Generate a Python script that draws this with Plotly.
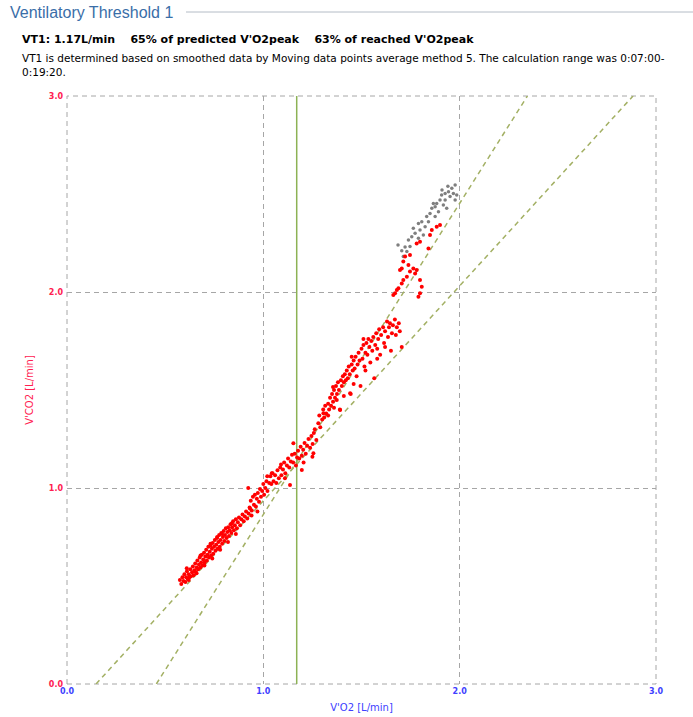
import plotly.graph_objects as go

# ---- data ----
vt1_vo2 = 1.17
axis_ticks = [0.0, 1.0, 2.0, 3.0]
tick_text = ["0.0", "1.0", "2.0", "3.0"]

line1_vo2 = [0.148, 2.883]
line1_vco2 = [0.0, 3.0]
line2_vo2 = [0.455, 2.345]
line2_vco2 = [0.0, 3.0]

red_pts = [
    # lower band
    (0.575,0.53),(0.582,0.51),(0.588,0.545),(0.593,0.525),(0.598,0.56),(0.603,0.52),(0.607,0.545),
    (0.611,0.575),(0.616,0.535),(0.62,0.56),(0.624,0.545),(0.628,0.585),(0.632,0.55),(0.637,0.57),
    (0.641,0.60),(0.645,0.555),(0.649,0.58),(0.653,0.615),(0.657,0.57),(0.661,0.595),(0.664,0.63),
    (0.668,0.585),(0.672,0.61),(0.676,0.645),(0.679,0.595),(0.683,0.62),(0.687,0.66),(0.69,0.605),
    (0.694,0.635),(0.698,0.67),(0.701,0.62),(0.705,0.65),(0.709,0.685),(0.712,0.63),(0.716,0.66),
    (0.72,0.70),(0.723,0.645),(0.727,0.675),(0.731,0.715),(0.734,0.655),(0.738,0.69),(0.742,0.72),
    (0.745,0.665),(0.749,0.70),(0.753,0.735),(0.756,0.68),(0.76,0.71),(0.764,0.745),(0.767,0.69),
    (0.771,0.725),(0.775,0.76),(0.778,0.70),(0.782,0.735),(0.786,0.77),(0.79,0.715),(0.794,0.75),
    (0.798,0.78),(0.801,0.73),(0.805,0.76),(0.809,0.795),(0.813,0.745),(0.817,0.775),(0.821,0.80),
    (0.825,0.755),(0.829,0.785),(0.833,0.815),(0.837,0.77),(0.841,0.80),(0.846,0.83),(0.85,0.785),
    (0.855,0.81),(0.86,0.84),(0.865,0.795),(0.87,0.825),(0.876,0.85),(0.882,0.81),(0.888,0.84),
    (0.894,0.865),(0.90,0.83),(0.906,0.855),(0.912,0.88),(0.918,0.845),(0.925,0.87),(0.932,0.895),
    (0.94,0.86),(0.62,0.53),(0.66,0.565),(0.70,0.605),(0.74,0.64),(0.78,0.685),(0.82,0.725),
    (0.86,0.765),(0.68,0.655),(0.73,0.705),(0.79,0.765),(0.84,0.82),(0.61,0.59),(0.765,0.75),
    # around the threshold
    (0.93,0.90),(0.936,0.935),(0.941,0.885),(0.947,0.955),(0.952,0.915),(0.957,0.965),(0.962,0.905),
    (0.967,0.945),(0.972,0.975),(0.978,0.93),(0.983,0.995),(0.988,0.955),(0.994,0.985),(1.0,1.02),
    (1.004,0.965),(1.01,1.0),(1.016,1.035),(1.021,0.985),(1.03,1.025),(1.036,1.06),(1.041,1.02),
    (1.047,1.075),(1.052,1.035),(1.06,1.065),(1.066,1.025),(1.072,1.09),(1.079,1.05),(1.086,1.105),
    (1.092,1.065),(1.10,1.095),(1.106,1.13),(1.112,1.075),(1.12,1.115),(1.126,1.15),(1.132,1.105),
    (1.14,1.135),(1.146,1.17),(1.152,1.13),(1.16,1.175),(1.166,1.115),(1.172,1.155),(1.177,1.19),
    (1.183,1.15),(1.19,1.21),(1.196,1.165),(1.203,1.195),(1.21,1.23),(1.216,1.175),(1.223,1.215),
    (1.23,1.25),(1.238,1.205),(1.245,1.265),(1.251,1.225),(1.257,1.28),(1.262,1.30),(1.27,1.245),
    (1.136,1.015),(1.196,1.092),(1.153,1.228),(1.043,1.075),(1.255,1.177),(0.923,1.0),(1.205,1.13),
    (0.97,0.88),(1.25,1.16),(1.09,1.12),(1.11,1.05),(1.02,1.06),
    # upper band
    (1.28,1.33),(1.285,1.37),(1.29,1.31),(1.30,1.35),(1.305,1.40),(1.31,1.36),(1.315,1.42),(1.32,1.38),
    (1.33,1.43),(1.335,1.40),(1.34,1.46),(1.345,1.42),(1.35,1.48),(1.355,1.44),(1.36,1.50),(1.365,1.46),
    (1.37,1.52),(1.375,1.48),(1.38,1.54),(1.385,1.50),(1.39,1.40),(1.395,1.55),(1.40,1.52),(1.405,1.57),
    (1.41,1.54),(1.415,1.58),(1.42,1.55),(1.425,1.60),(1.43,1.56),(1.435,1.62),(1.44,1.58),(1.445,1.48),
    (1.45,1.63),(1.455,1.60),(1.46,1.65),(1.465,1.61),(1.47,1.67),(1.475,1.57),(1.48,1.63),(1.485,1.69),
    (1.49,1.65),(1.495,1.52),(1.50,1.71),(1.505,1.66),(1.51,1.73),(1.515,1.62),(1.52,1.69),(1.525,1.74),
    (1.53,1.68),(1.535,1.76),(1.54,1.72),(1.545,1.64),(1.55,1.75),(1.555,1.70),(1.56,1.77),(1.565,1.56),
    (1.57,1.73),(1.575,1.79),(1.58,1.71),(1.585,1.76),(1.59,1.81),(1.595,1.68),(1.60,1.78),(1.61,1.82),
    (1.615,1.74),(1.62,1.80),(1.63,1.85),(1.635,1.77),(1.64,1.82),(1.645,1.84),(1.65,1.70),(1.655,1.79),
    (1.66,1.83),(1.67,1.86),(1.675,1.78),(1.68,1.82),(1.69,1.84),(1.695,1.80),(1.705,1.72),
    (1.391,1.398),(1.306,1.381),(1.374,1.449),(1.442,1.483),(1.33,1.37),(1.36,1.41),(1.41,1.47),
    (1.46,1.53),(1.52,1.60),(1.58,1.66),(1.62,1.72),(1.355,1.515),(1.45,1.67),(1.51,1.76),
    # top red group
    (1.671,1.993),(1.688,2.019),(1.705,2.044),(1.713,2.061),(1.731,2.078),(1.747,2.104),(1.764,2.12),
    (1.773,2.095),(1.781,2.112),(1.798,2.061),(1.807,2.027),(1.798,1.993),(1.79,1.976),(1.713,2.155),
    (1.722,2.181),(1.739,2.138),(1.747,2.189),(1.781,2.248),(1.798,2.257),(1.841,2.222),(1.849,2.291),
    (1.883,2.333),(1.90,2.342),(1.858,2.316),(1.696,2.112),(1.68,2.01),(1.662,1.985),(1.705,2.12),
]
red_vo2 = [p[0] for p in red_pts]
red_vco2 = [p[1] for p in red_pts]

gray_pts = [
    (1.705,2.21),(1.722,2.23),(1.739,2.265),(1.756,2.282),(1.773,2.30),(1.764,2.325),(1.79,2.35),
    (1.807,2.359),(1.798,2.316),(1.824,2.333),(1.832,2.385),(1.849,2.401),(1.858,2.427),(1.875,2.435),
    (1.883,2.452),(1.90,2.469),(1.908,2.495),(1.926,2.503),(1.943,2.512),(1.951,2.487),(1.968,2.503),
    (1.977,2.469),(1.934,2.427),(1.917,2.444),(1.875,2.385),(1.841,2.359),(1.815,2.291),(1.79,2.274),
    (1.747,2.232),(1.731,2.206),(1.713,2.181),(1.892,2.41),(1.866,2.452),(1.985,2.495),(1.96,2.529),
    (1.926,2.469),(1.977,2.546),(1.686,2.24),(1.94,2.54),(1.91,2.52),
]
gray_vo2 = [p[0] for p in gray_pts]
gray_vco2 = [p[1] for p in gray_pts]

# ---- figure ----
W, H = 693, 717
L, R, T, B = 67, 37, 96, 33
pw, ph = W - L - R, H - T - B

def px(xp):
    return (xp - L) / pw

def py(yp):
    return (H - B - yp) / ph

green_dash = "#a3b064"
grid_col = "#a6a6a6"
dash_pat = "5px,4px"

fig = go.Figure()
fig.add_trace(go.Scatter(x=line1_vo2, y=line1_vco2, mode="lines",
                         line=dict(color=green_dash, width=1.5, dash=dash_pat), hoverinfo="skip"))
fig.add_trace(go.Scatter(x=line2_vo2, y=line2_vco2, mode="lines",
                         line=dict(color=green_dash, width=1.5, dash=dash_pat), hoverinfo="skip"))
fig.add_trace(go.Scatter(x=[vt1_vo2, vt1_vo2], y=[axis_ticks[0], axis_ticks[-1]], mode="lines",
                         line=dict(color="#8db255", width=1.5), hoverinfo="skip"))
fig.add_trace(go.Scatter(x=gray_vo2, y=gray_vco2, mode="markers",
                         marker=dict(color="#7f7f7f", size=3.5)))
fig.add_trace(go.Scatter(x=red_vo2, y=red_vco2, mode="markers",
                         marker=dict(color="#ff0000", size=4)))

fig.update_layout(
    width=W, height=H, showlegend=False,
    margin=dict(l=L, r=R, t=T, b=B, autoexpand=False),
    paper_bgcolor="white", plot_bgcolor="white",
    font=dict(family="DejaVu Sans", size=11, color="#000000"),
    xaxis=dict(range=[0, 3], tickvals=axis_ticks, ticktext=["<b>%s</b>" % t for t in tick_text],
               showgrid=True, gridcolor=grid_col, griddash=dash_pat, gridwidth=1, zeroline=False,
               showline=False, ticks="", ticklen=0, ticklabelstandoff=1,
               tickfont=dict(family="DejaVu Sans", size=8, color="#4040ff"),
               title=dict(text="V'O2 [L/min]", standoff=8,
                          font=dict(family="DejaVu Sans", size=10, color="#4040ff"))),
    yaxis=dict(range=[0, 3], tickvals=axis_ticks, ticktext=["<b>%s</b>" % t for t in tick_text],
               showgrid=True, gridcolor=grid_col, griddash=dash_pat, gridwidth=1, zeroline=False,
               showline=False, ticks="", ticklen=0, ticklabelstandoff=3,
               tickfont=dict(family="DejaVu Sans", size=8, color="#ff2050"),
               title=dict(text="V'CO2 [L/min]", standoff=13,
                          font=dict(family="DejaVu Sans", size=10, color="#ff2050"))),
    shapes=[
        dict(type="rect", xref="paper", yref="paper", x0=0, x1=1, y0=0, y1=1,
             line=dict(color=grid_col, width=1, dash=dash_pat), layer="below"),
        dict(type="line", xref="paper", yref="paper", x0=px(186), x1=px(693),
             y0=py(12), y1=py(12), line=dict(color="#b4bcc6", width=1)),
    ],
    annotations=[
        dict(text="Ventilatory Threshold 1", xref="paper", yref="paper", x=px(8), y=py(12),
             xanchor="left", yanchor="middle", showarrow=False,
             font=dict(family="Liberation Sans", size=16, color="#3a6ea8")),
        dict(text="<b>VT1: 1.17L/min\u00a0\u00a0\u00a0\u00a065% of predicted V'O2peak\u00a0\u00a0\u00a0\u00a063% of reached V'O2peak</b>",
             xref="paper", yref="paper", x=px(20), y=py(39),
             xanchor="left", yanchor="middle", showarrow=False,
             font=dict(family="DejaVu Sans", size=11, color="#000000")),
        dict(text="VT1 is determined based on smoothed data by Moving data points average method 5. The calculation range was 0:07:00-",
             xref="paper", yref="paper", x=px(20), y=py(58),
             xanchor="left", yanchor="middle", showarrow=False,
             font=dict(family="DejaVu Sans", size=10.5, color="#000000")),
        dict(text="0:19:20.",
             xref="paper", yref="paper", x=px(20), y=py(72),
             xanchor="left", yanchor="middle", showarrow=False,
             font=dict(family="DejaVu Sans", size=10.5, color="#000000")),
    ],
)

fig.write_html("out.html")
